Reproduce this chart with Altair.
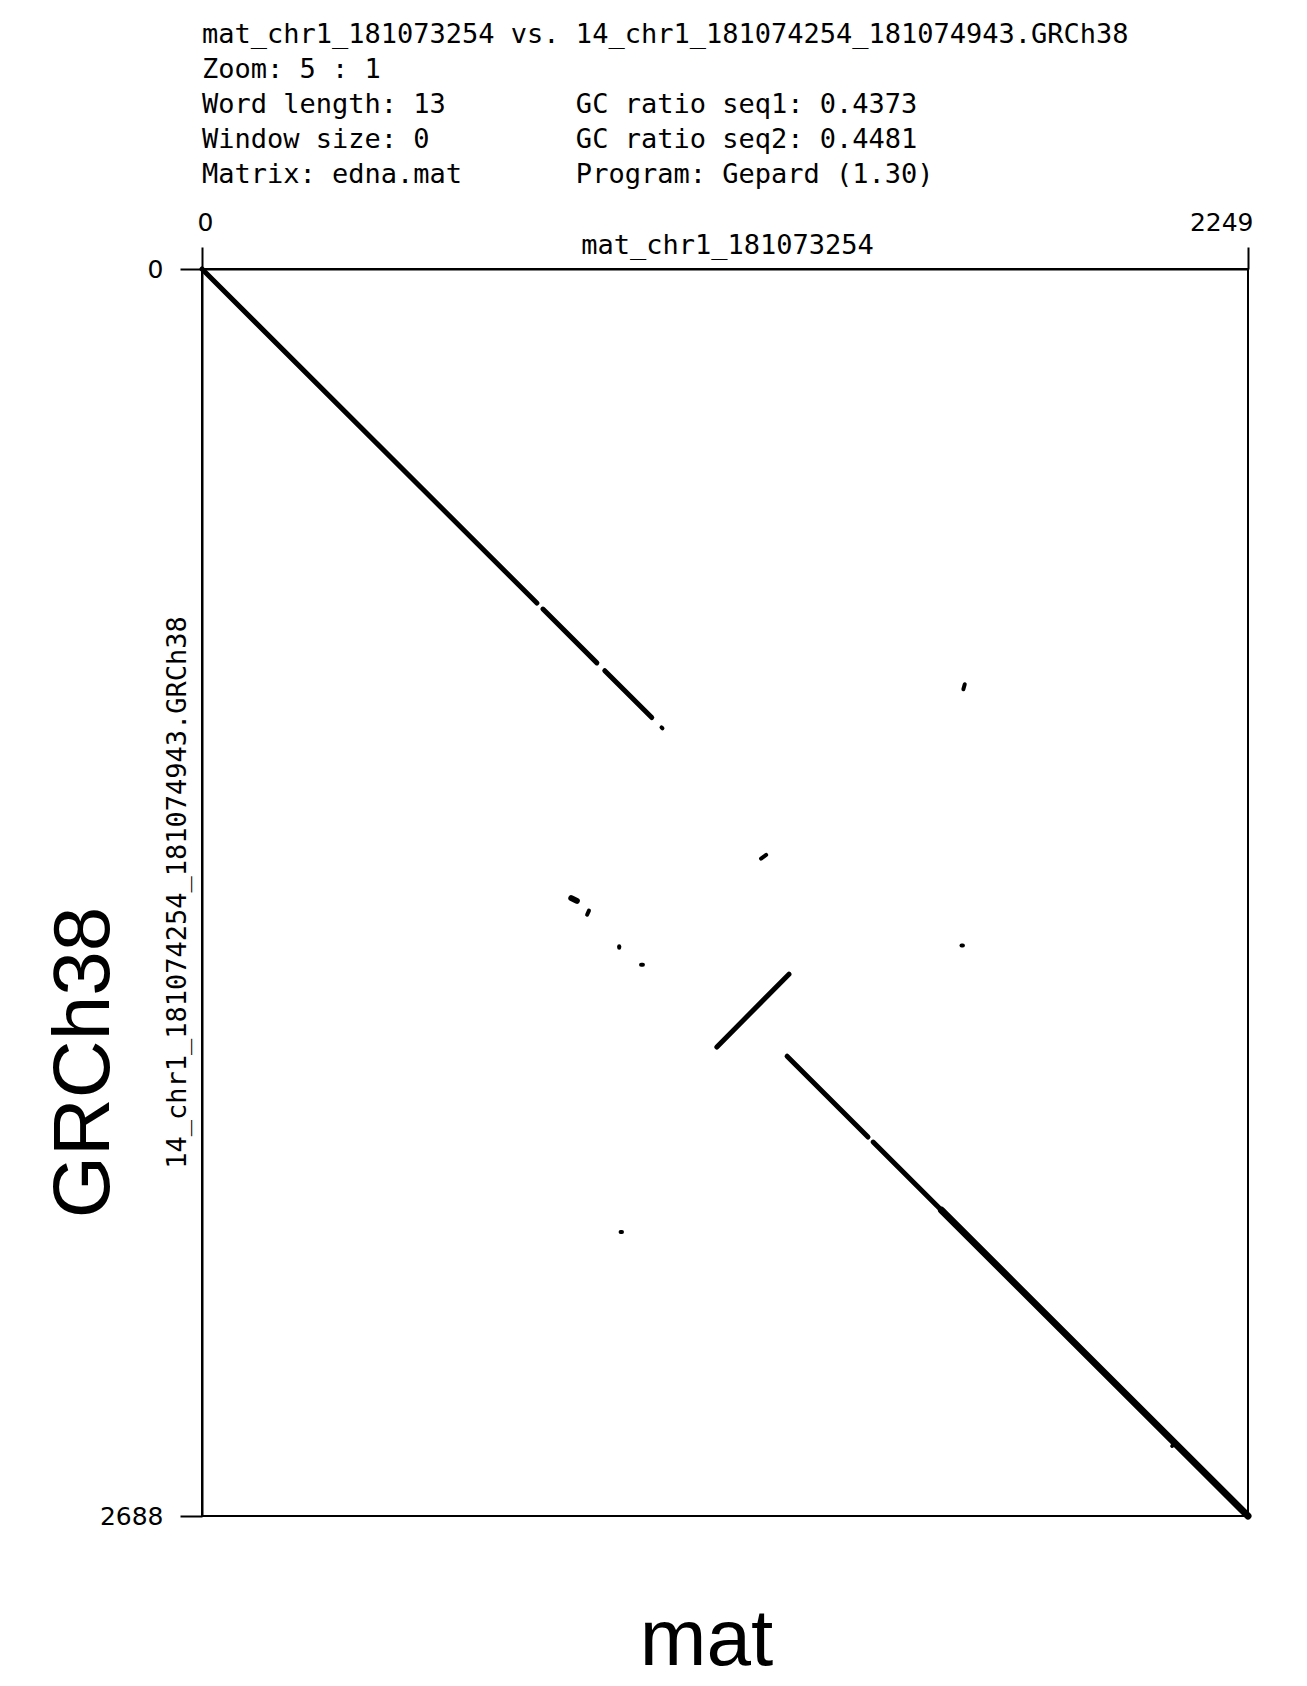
import altair as alt
import pandas as pd

# ---- sequence lengths / axis ticks ----
X_MAX = 2249
Y_MAX = 2688
x_ticks = [0, 2249]
y_ticks = [0, 2688]

x_label = "mat_chr1_181073254"
y_label = "14_chr1_181074254_181074943.GRCh38"
x_big = "mat"
y_big = "GRCh38"

NB = "\u00a0"
header_lines = [
    "mat_chr1_181073254 vs. 14_chr1_181074254_181074943.GRCh38",
    "Zoom: 5 : 1",
    "Word length: 13" + NB * 8 + "GC ratio seq1: 0.4373",
    "Window size: 0" + NB * 9 + "GC ratio seq2: 0.4481",
    "Matrix: edna.mat" + NB * 7 + "Program: Gepard (1.30)",
]

# ---- dot-plot hits (start x/y, end x/y in sequence coordinates) ----
main_x1 = [0, 733, 866, 1107, 1258, 1443]
main_y1 = [0, 733, 866, 1677, 1697, 1882]
main_x2 = [720, 849, 967, 1262, 1432, 1590]
main_y2 = [720, 849, 967, 1520, 1871, 2029]

thick_x1 = [1590]
thick_y1 = [2029]
thick_x2 = [2249]
thick_y2 = [2688]

dot_x1 = [988, 1637, 1202, 828, 897, 944, 1633, 900, 2086]
dot_y1 = [988, 906, 1271, 1392, 1460, 1500, 1458, 2076, 2537]
dot_x2 = [990, 1640, 1213, 832, 897, 948, 1636, 903, 2092]
dot_y2 = [990, 895, 1263, 1383, 1463, 1500, 1458, 2076, 2530]

blob_x1 = [794]
blob_y1 = [1356]
blob_x2 = [806]
blob_y2 = [1362]


def seg_df(x1, y1, x2, y2):
    return pd.DataFrame({"x": x1, "y": y1, "x2": x2, "y2": y2})


xscale = alt.Scale(domain=[0, X_MAX], nice=False, zero=False)
yscale = alt.Scale(domain=[0, Y_MAX], reverse=True, nice=False, zero=False)

MONO = "DejaVu Sans Mono"
SANS = "Liberation Sans"

top_axis = alt.Axis(
    orient="top", values=x_ticks, format="d", grid=False,
    title=x_label, titleFont=MONO, titleFontSize=27, titleFontWeight="normal",
    titleColor="black", titleX=525, titleY=-16, titleAlign="center",
    titleBaseline="alphabetic", titleAngle=0,
    labelFont="DejaVu Sans", labelFontSize=25, labelColor="black",
    labelPadding=17, labelBaseline="alphabetic", labelFlush=True,
    labelFlushOffset=5, labelAngle=0,
    tickSize=22, tickWidth=2, tickColor="black",
    domainColor="black", domainWidth=2,
)
left_axis = alt.Axis(
    orient="left", values=y_ticks, format="d", grid=False,
    title=y_label, titleFont=MONO, titleFontSize=27, titleFontWeight="normal",
    titleColor="black", titleX=-17, titleY=623, titleAlign="center",
    titleBaseline="alphabetic", titleAngle=270,
    labelFont="DejaVu Sans", labelFontSize=25, labelColor="black",
    labelPadding=17, labelBaseline="middle", labelFlush=False,
    tickSize=22, tickWidth=2, tickColor="black",
    domainColor="black", domainWidth=2,
)
bottom_big = alt.Axis(
    orient="bottom", labels=False, ticks=False, domain=False, grid=False,
    title=x_big, titleFont=SANS, titleFontSize=80, titleFontWeight="normal",
    titleColor="black", titleX=504, titleY=148, titleAlign="center",
    titleBaseline="alphabetic", titleAngle=0,
)
left_big = alt.Axis(
    orient="left", labels=False, ticks=False, domain=False, grid=False,
    title=y_big, titleFont=SANS, titleFontSize=80, titleFontWeight="normal",
    titleColor="black", titleX=-94, titleY=793, titleAlign="center",
    titleBaseline="alphabetic", titleAngle=270,
)

main = alt.Chart(seg_df(main_x1, main_y1, main_x2, main_y2)).mark_rule(
    color="black", strokeWidth=5, strokeCap="round"
).encode(
    x=alt.X("x:Q", scale=xscale, axis=top_axis),
    y=alt.Y("y:Q", scale=yscale, axis=left_axis),
    x2="x2:Q", y2="y2:Q",
)

thick = alt.Chart(seg_df(thick_x1, thick_y1, thick_x2, thick_y2)).mark_rule(
    color="black", strokeWidth=7, strokeCap="round"
).encode(
    x=alt.X("x:Q", scale=xscale, axis=None),
    y=alt.Y("y:Q", scale=yscale, axis=None),
    x2="x2:Q", y2="y2:Q",
)

dots = alt.Chart(seg_df(dot_x1, dot_y1, dot_x2, dot_y2)).mark_rule(
    color="black", strokeWidth=4, strokeCap="round"
).encode(
    x=alt.X("x:Q", scale=xscale, axis=bottom_big),
    y=alt.Y("y:Q", scale=yscale, axis=left_big),
    x2="x2:Q", y2="y2:Q",
)

blob = alt.Chart(seg_df(blob_x1, blob_y1, blob_x2, blob_y2)).mark_rule(
    color="black", strokeWidth=6, strokeCap="round"
).encode(
    x=alt.X("x:Q", scale=xscale, axis=None),
    y=alt.Y("y:Q", scale=yscale, axis=None),
    x2="x2:Q", y2="y2:Q",
)

chart = alt.layer(main, thick, dots, blob).resolve_axis(
    x="independent", y="independent"
).properties(
    width=1046,
    height=1247,
    autosize=alt.AutoSizeParams(type="none"),
    padding={"left": 194, "top": 261, "right": 40, "bottom": 168},
    background="white",
    title=alt.Title(
        text=header_lines, anchor="start", frame="group", font=MONO,
        fontSize=27, fontWeight="normal", color="black", lineHeight=35,
        offset=20, dy=26, baseline="bottom",
    ),
).configure_view(stroke="black", strokeWidth=2)

chart.save("out.html", embed_options={"renderer": "svg", "actions": False})
